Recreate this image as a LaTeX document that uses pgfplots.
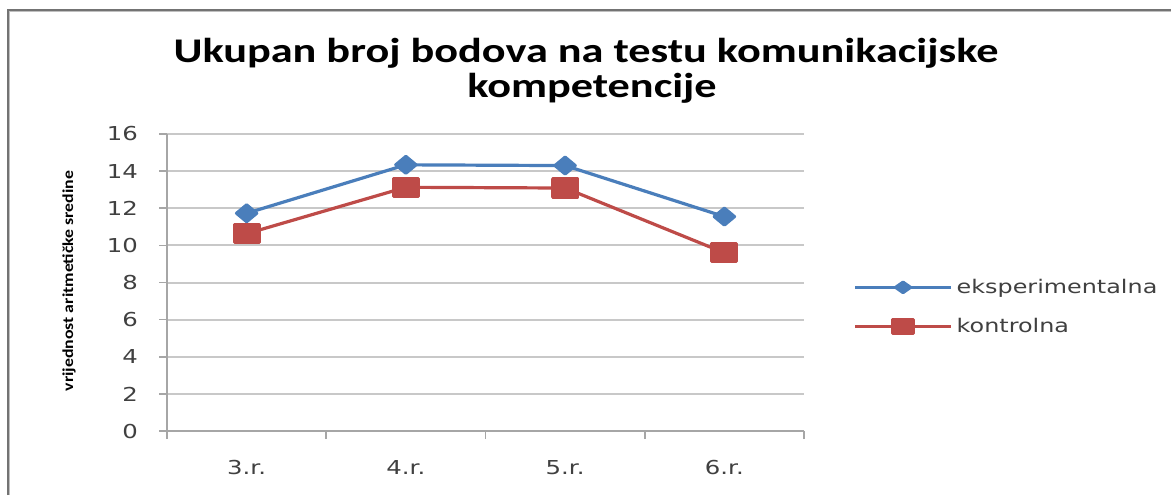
\documentclass[border=0pt]{standalone}
\usepackage{fontspec}
\setmainfont{DejaVu Sans}[FakeStretch=1.27]
\newfontfamily\titlefont{Carlito}[FakeStretch=1.28]
\newfontfamily\labfont{Carlito}[FakeStretch=1.17]
\usepackage{pgfplots}
\pgfplotsset{compat=1.18}
\definecolor{serblue}{HTML}{4A7EBB}
\definecolor{serred}{HTML}{BE4B48}
\definecolor{gridc}{HTML}{C8C8C8}
\definecolor{axc}{HTML}{A6A6A6}
\definecolor{txt}{HTML}{404040}
\begin{document}
\begin{tikzpicture}
\path[use as bounding box] (0,0) rectangle (585.5pt,247.5pt);
% frame
\draw[color=gray!50, line width=1.2pt] (4.6pt,0) -- (4.6pt,241.9pt) -- (585.5pt,241.9pt);
\draw[color=gray!90!black, line width=0.9pt] (4pt,0) -- (4pt,242.5pt) -- (585.5pt,242.5pt);
% title
\node[anchor=base, font=\titlefont\bfseries\fontsize{17.3}{20}\selectfont] at (293pt,216.5pt) {Ukupan broj bodova na testu komunikacijske};
\node[anchor=base, font=\titlefont\bfseries\fontsize{17.3}{20}\selectfont] at (296pt,199pt) {kompetencije};
% y label
\node[rotate=90, font=\labfont\bfseries\fontsize{7.6}{10}\selectfont] at (34.5pt,107pt) {vrijednost aritmetičke sredine};
\begin{axis}[
  at={(83.5pt,32pt)}, anchor=south west,
  scale only axis, width=318.5pt, height=148.5pt,
  xmin=-0.5, xmax=3.5, ymin=0, ymax=16,
  ytick={0,2,...,16},
  xtick={0,1,2,3}, xticklabels={3.r.,4.r.,5.r.,6.r.},
  minor xtick={-0.5,0.5,1.5,2.5,3.5},
  major x tick style={draw=none},
  tick align=outside, major tick length=4pt, minor tick length=4pt,
  tick style={axc, line width=0.8pt},
  axis x line*=bottom, axis y line*=left,
  axis line style={axc, line width=1pt, -},
  ymajorgrids, grid style={gridc, line width=1pt},
  /pgf/number format/assume math mode=true,
  ticklabel style={font=\fontsize{9.6}{11}\selectfont, text=txt},
  yticklabel style={xshift=-7pt},
  xticklabel style={yshift=-7pt},
  legend style={at={(rel axis cs:1.077,0.4175)}, anchor=west, draw=none, fill=none,
    font=\fontsize{9.4}{11}\selectfont, text=txt, row sep=7pt, inner sep=0pt,
    cells={anchor=west}},
  legend image code/.code={\draw[mark repeat=2,mark phase=2,#1] plot coordinates {(0pt,0pt) (24pt,0pt) (48pt,0pt)};},
  every axis plot/.append style={line width=1.6pt, line join=round},
]
\addplot[serblue, forget plot, mark=diamond*, mark size=4.2pt, mark options={xscale=1.6, solid, fill=serblue}] coordinates {(0,11.73) (1,14.34) (2,14.30) (3,11.55)};
\addplot[serred, forget plot, mark=square*, mark size=4.5pt, mark options={xscale=1.39, solid, fill=serred}] coordinates {(0,10.63) (1,13.13) (2,13.09) (3,9.60)};
\addlegendimage{serblue, line width=1.6pt, mark=diamond*, mark size=2.6pt, mark options={xscale=1.9, solid, fill=serblue}}
\addlegendentry{eksperimentalna}
\addlegendimage{serred, line width=1.6pt, mark=square*, mark size=3.5pt, mark options={xscale=1.5, solid, fill=serred}}
\addlegendentry{kontrolna}
\end{axis}
\end{tikzpicture}
\end{document}
